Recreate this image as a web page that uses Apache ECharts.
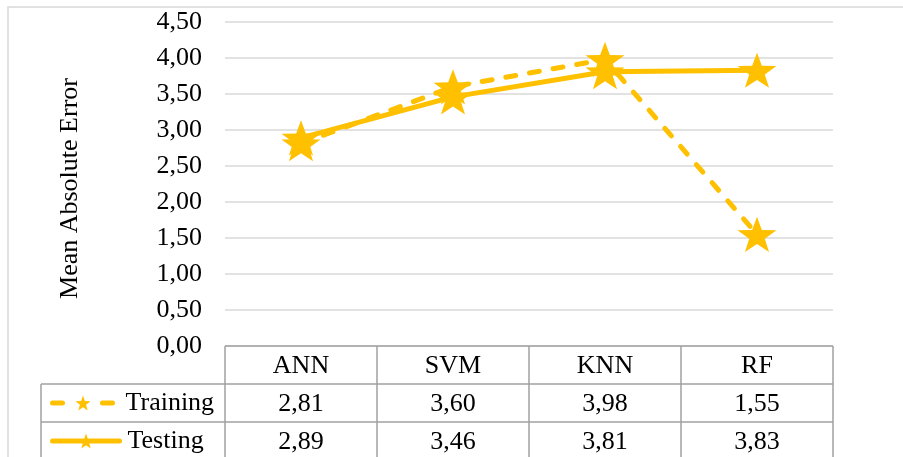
<!DOCTYPE html>
<html>
<head>
<meta charset="utf-8">
<script src="https://cdn.jsdelivr.net/npm/echarts@6/dist/echarts.min.js"></script>
<style>
  html, body { margin: 0; padding: 0; background: #fff; }
  #chart { width: 903px; height: 457px; }
</style>
</head>
<body>
<div id="chart"></div>
<script>
// Model names and their mean absolute error per phase
const categories = ['ANN', 'SVM', 'KNN', 'RF'];
const training = [2.81, 3.60, 3.98, 1.55];
const testing = [2.89, 3.46, 3.81, 3.83];
const seriesNames = ['Training', 'Testing'];

const FONT = '"Liberation Serif", "Times New Roman", serif';
const GOLD = '#FFC000';
const STAR = 'path://M0,-10 L2.35,-3.24 L9.51,-3.09 L3.8,1.24 L5.88,8.09 L0,4 L-5.88,8.09 L-3.8,1.24 L-9.51,-3.09 L-2.35,-3.24 Z';
const fmt = v => v.toFixed(2).replace('.', ',');

const chart = echarts.init(document.getElementById('chart'), null, { renderer: 'canvas' });

const legendText = pad => ({ fontFamily: FONT, fontSize: 26, color: '#000', padding: [0, 0, 0, pad] });

const option = {
  animation: false,
  backgroundColor: '#fff',
  grid: { left: 225, right: 70, top: 22, bottom: 111, containLabel: false },
  xAxis: {
    type: 'category',
    data: categories,
    boundaryGap: true,
    axisLine: { show: false },
    axisTick: { show: false },
    axisLabel: { show: false },
    splitLine: { show: false }
  },
  yAxis: {
    type: 'value',
    min: 0,
    max: 4.5,
    interval: 0.5,
    name: 'Mean Absolute Error',
    nameLocation: 'middle',
    nameRotate: 90,
    nameGap: 142,
    nameTextStyle: { fontFamily: FONT, fontSize: 26, color: '#000', padding: [0, 9, 0, 0] },
    axisLine: { show: false },
    axisTick: { show: false },
    axisLabel: {
      fontFamily: FONT, fontSize: 26, color: '#000', margin: 23,
      formatter: v => fmt(v)
    },
    splitLine: { lineStyle: { color: '#d9d9d9', width: 1.5 } }
  },
  legend: [
    {
      data: [seriesNames[0]], left: 50, top: 390, padding: 0,
      itemWidth: 61, itemHeight: 19, itemGap: 0,
      lineStyle: { width: 5, type: [10, 40], cap: 'round' },
      textStyle: legendText(7)
    },
    {
      data: [seriesNames[1]], left: 50, top: 428, padding: 0,
      itemWidth: 67, itemHeight: 19, itemGap: 0,
      lineStyle: { width: 5, cap: 'round' },
      textStyle: legendText(3)
    }
  ],
  series: [
    {
      name: seriesNames[0],
      type: 'line',
      data: training,
      symbol: STAR,
      symbolSize: [39, 37],
      symbolKeepAspect: true,
      lineStyle: { color: GOLD, width: 5, type: [10, 14], cap: 'round' },
      itemStyle: { color: GOLD, borderWidth: 0 },
      z: 2
    },
    {
      name: seriesNames[1],
      type: 'line',
      data: testing,
      symbol: STAR,
      symbolSize: [39, 37],
      symbolKeepAspect: true,
      lineStyle: { color: GOLD, width: 5, cap: 'round' },
      itemStyle: { color: GOLD, borderWidth: 0 },
      z: 3
    }
  ]
};

chart.setOption(option);

// Data table under the plot, laid out from the category axis bands
function drawTable() {
  const centers = categories.map(c => chart.convertToPixel({ xAxisIndex: 0 }, c));
  const band = centers[1] - centers[0];
  const xStart = centers[0] - band / 2;
  const xEnd = centers[centers.length - 1] + band / 2;
  const yTop = chart.convertToPixel({ yAxisIndex: 0 }, 0);
  const rowH = 38;
  const legendLeft = 41;
  const border = { stroke: '#a0a0a0', lineWidth: 1.5 };
  const els = [];

  // outer chart frame
  els.push({ type: 'rect', shape: { x: 8, y: 7, width: 920, height: 470 },
    style: { fill: null, stroke: '#d9d9d9', lineWidth: 1.5 }, z: 0 });

  // horizontal rules
  els.push({ type: 'line', shape: { x1: xStart, y1: yTop, x2: xEnd, y2: yTop }, style: border, z: 5 });
  for (let r = 1; r <= 3; r++) {
    const y = yTop + r * rowH;
    els.push({ type: 'line', shape: { x1: legendLeft, y1: y, x2: xEnd, y2: y }, style: border, z: 5 });
  }
  // vertical rules
  for (let i = 0; i <= categories.length; i++) {
    const x = xStart + i * band;
    els.push({ type: 'line', shape: { x1: x, y1: yTop, x2: x, y2: yTop + 3 * rowH }, style: border, z: 5 });
  }
  els.push({ type: 'line', shape: { x1: legendLeft, y1: yTop + rowH, x2: legendLeft, y2: yTop + 3 * rowH }, style: border, z: 5 });

  const cell = (text, x, y) => ({
    type: 'text', x: x, y: y, z: 6,
    style: { text: text, fontFamily: FONT, fontSize: 26, fill: '#000', align: 'center', verticalAlign: 'middle' }
  });
  categories.forEach((c, i) => {
    els.push(cell(c, centers[i], yTop + rowH / 2 + 1));
    els.push(cell(fmt(training[i]), centers[i], yTop + rowH * 1.5 + 1));
    els.push(cell(fmt(testing[i]), centers[i], yTop + rowH * 2.5 + 1));
  });

  chart.setOption({ graphic: { elements: els } });
}
drawTable();
</script>
</body>
</html>
